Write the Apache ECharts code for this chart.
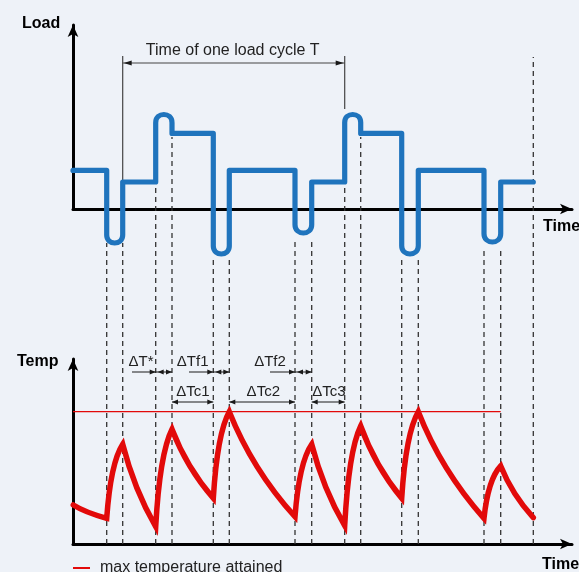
<!DOCTYPE html>
<html><head><meta charset="utf-8">
<script src="https://cdn.jsdelivr.net/npm/echarts@6/dist/echarts.min.js"></script>
<style>html,body{margin:0;padding:0;background:#eef2f8}#c{width:579px;height:572px}</style>
</head><body><div id="c"></div>
<script>
// ---- data (time in arbitrary units, load / temperature in arbitrary units) ----
const edgeTimes = [0, 3.37, 4.97, 8.27, 9.9, 14.03, 15.63, 22.2, 23.87, 27.17, 28.77, 32.87, 34.53, 41.1, 42.77, 46.03];
const flatLevels = [3.86, 2.7, 7.56, 3.86, 2.7, 7.56, 3.86, 2.7];
const transitionExtremes = [-3.4, 9.45, -4.5, -2.4, 9.45, -4.5, -3.3];
const tempTimes = [0.03, 3.37, 4.97, 8.27, 9.9, 14.03, 15.63, 22.2, 23.87, 27.17, 28.77, 32.87, 34.53, 41.1, 42.77, 46.03];
const tempValues = [3.9, 2.57, 9.97, 1.73, 11.47, 4.57, 13.23, 2.73, 9.97, 1.83, 11.8, 4.57, 13.23, 2.57, 7.8, 2.63];
const maxTemp = 13.23;
const maxTempEnd = 42.77;
const guideTimes = [3.37, 4.97, 8.27, 9.9, 14.03, 15.63, 22.2, 23.87, 27.17, 28.77, 32.87, 34.53, 41.1, 42.77, 46.03];
const guideTops = [-3.4, -3.4, 2.4, 7.2, -5.1, -5.1, -3.3, -3.3, 2.4, 7.2, -5.1, -5.1, -3.9, -3.9, 15.2];
const cycleStart = 4.97, cycleEnd = 27.17;
const cycleLineTop = 15.3, cycleArrowLevel = 14.6, cycleLabelLevel = 15.8;
const cycleLineBottoms = [2.7, 10.0];
const cycleLabel = 'Time of one load cycle T';
const dimLabels = ['ΔT*', 'ΔTf1', 'ΔTf2', 'ΔTc1', 'ΔTc2', 'ΔTc3'];
const dimLabelT = [6.8, 11.97, 19.7, 12.0, 19.03, 25.6];
const dimLabelV = [18.2, 18.2, 18.2, 15.2, 15.2, 15.2];
const dimStart = [5.9, 11.6, 19.7, 9.9, 15.63, 23.87];
const dimEnd = [9.9, 15.63, 23.87, 14.03, 22.2, 27.17];
const dimLevel = [17.2, 17.2, 17.2, 14.2, 14.2, 14.2];
// arrow heads: [time of tip, direction (+1 right, -1 left)]
const dimHeads = [
  [[8.27, 1], [8.47, -1], [9.9, 1]],
  [[14.03, 1], [14.23, -1], [15.63, 1]],
  [[22.2, 1], [22.4, -1], [23.87, 1]],
  [[9.9, -1], [14.03, 1]],
  [[15.63, -1], [22.2, 1]],
  [[23.87, -1], [27.17, 1]]
];

const FONT = '"Liberation Sans", Arial, Helvetica, sans-serif';
const BLUE = '#1f74bd', RED = '#e20a0a', INK = '#1a1a1a';
const chart = echarts.init(document.getElementById('c'));

function arrowHead(x, y, dir, len, half) {
  return { type: 'polygon', shape: { points: [[x, y], [x - dir * len, y - half], [x - dir * len, y + half]] }, style: { fill: INK } };
}

function axisSet(i, ymax) {
  return {
    x: { gridIndex: i, type: 'value', min: 0, max: 49.9,
      axisLine: { show: true, onZero: false, symbol: ['none', 'arrow'], symbolSize: [8, 12], lineStyle: { color: '#000', width: 3 } },
      axisTick: { show: false }, axisLabel: { show: false }, splitLine: { show: false } },
    y: { gridIndex: i, type: 'value', min: 0, max: ymax,
      axisLine: { show: true, onZero: false, symbol: ['none', 'arrow'], symbolSize: [8, 12], lineStyle: { color: '#000', width: 3 } },
      axisTick: { show: false }, axisLabel: { show: false }, splitLine: { show: false } }
  };
}
const a0 = axisSet(0, 18.4), a1 = axisSet(1, 18.5);

const option = {
  backgroundColor: '#eef2f8',
  animation: false,
  grid: [
    { left: 73, top: 25, width: 499, height: 184 },
    { left: 73, top: 359, width: 499, height: 185 }
  ],
  xAxis: [a0.x, a1.x],
  yAxis: [a0.y, a1.y],
  legend: {
    left: 68, top: 555, icon: 'rect', itemWidth: 17, itemHeight: 2,
    textStyle: { fontFamily: FONT, fontSize: 16, color: '#222', padding: [0, 0, 0, 5] },
    data: ['max temperature attained']
  },
  graphic: [
    { type: 'text', left: 22, top: 16, style: { text: 'Load', font: 'bold 16px ' + FONT, fill: '#000' } },
    { type: 'text', left: 17, top: 354, style: { text: 'Temp', font: 'bold 16px ' + FONT, fill: '#000' } },
    { type: 'text', left: 543, top: 219, style: { text: 'Time', font: 'bold 16px ' + FONT, fill: '#000' } },
    { type: 'text', left: 542, top: 557, style: { text: 'Time', font: 'bold 16px ' + FONT, fill: '#000' } }
  ],
  series: [
    { // dashed guide lines (drawn in temp grid, top from load grid)
      type: 'custom', xAxisIndex: 1, yAxisIndex: 1, z: 1, silent: true,
      data: guideTimes.map((t, i) => [t, guideTops[i]]),
      renderItem: function (params, api) {
        const t = api.value(0), top = api.value(1);
        const b = api.coord([t, 0]);
        const tp = chart.convertToPixel({ xAxisIndex: 0, yAxisIndex: 0 }, [t, top]);
        if (!tp) return null;
        return { type: 'line', shape: { x1: b[0], y1: b[1], x2: b[0], y2: tp[1] },
          style: { stroke: '#333', lineWidth: 1.3, lineDash: [5, 4] } };
      }
    },
    { // load-cycle annotation
      type: 'custom', xAxisIndex: 0, yAxisIndex: 0, z: 2, silent: true,
      data: [[cycleStart, cycleEnd]],
      renderItem: function (params, api) {
        const s = api.coord([cycleStart, cycleLineTop]);
        const e = api.coord([cycleEnd, cycleLineTop]);
        const sb = api.coord([cycleStart, cycleLineBottoms[0]]);
        const eb = api.coord([cycleEnd, cycleLineBottoms[1]]);
        const ay = api.coord([0, cycleArrowLevel])[1];
        const ly = api.coord([0, cycleLabelLevel])[1];
        return { type: 'group', children: [
          { type: 'line', shape: { x1: s[0], y1: s[1], x2: sb[0], y2: sb[1] }, style: { stroke: '#444', lineWidth: 1.2 } },
          { type: 'line', shape: { x1: e[0], y1: e[1], x2: eb[0], y2: eb[1] }, style: { stroke: '#444', lineWidth: 1.2 } },
          { type: 'line', shape: { x1: s[0], y1: ay, x2: e[0], y2: ay }, style: { stroke: '#444', lineWidth: 1 } },
          arrowHead(s[0] + 1, ay, -1, 8, 2.5),
          arrowHead(e[0] - 1, ay, 1, 8, 2.5),
          { type: 'text', x: (s[0] + e[0]) / 2 - 1, y: ly, style: { text: cycleLabel, font: '16px ' + FONT, fill: '#222', align: 'center', verticalAlign: 'middle' } }
        ] };
      }
    },
    { // load curve
      type: 'custom', xAxisIndex: 0, yAxisIndex: 0, z: 5, silent: true,
      data: [[0, 0]],
      renderItem: function (params, api) {
        const P = (t, v) => api.coord([t, v]);
        let p = P(edgeTimes[0], flatLevels[0]);
        let d = 'M' + p[0] + ' ' + p[1];
        for (let i = 0; i < flatLevels.length; i++) {
          const b = P(edgeTimes[2 * i + 1], flatLevels[i]);
          d += ' L' + b[0] + ' ' + b[1];
          if (i < transitionExtremes.length) {
            const x1 = b[0];
            const x2 = P(edgeTimes[2 * i + 2], 0)[0];
            const r = (x2 - x1) / 2;
            const ye = P(0, transitionExtremes[i])[1];
            const dir = ye > b[1] ? 1 : -1;
            const yc = ye - dir * r;
            const k = yc + dir * r * 4 / 3;
            d += ' L' + x1 + ' ' + yc + ' C' + x1 + ' ' + k + ' ' + x2 + ' ' + k + ' ' + x2 + ' ' + yc;
            const n = P(edgeTimes[2 * i + 2], flatLevels[i + 1]);
            d += ' L' + n[0] + ' ' + n[1];
          }
        }
        return { type: 'path', shape: { pathData: d }, style: { fill: null, stroke: BLUE, lineWidth: 5.2, lineJoin: 'round', lineCap: 'round' } };
      }
    },
    { // max temperature line
      name: 'max temperature attained', type: 'line', xAxisIndex: 1, yAxisIndex: 1, z: 3,
      data: [[0, maxTemp], [maxTempEnd, maxTemp]], showSymbol: false, symbol: 'none',
      lineStyle: { color: RED, width: 1.3 }, itemStyle: { color: RED }, silent: true
    },
    { // temperature curve
      type: 'custom', xAxisIndex: 1, yAxisIndex: 1, z: 6, silent: true,
      data: [[0, 0]],
      renderItem: function (params, api) {
        let p0 = api.coord([tempTimes[0], tempValues[0]]);
        let d = 'M' + p0[0] + ' ' + p0[1];
        for (let i = 1; i < tempTimes.length; i++) {
          const p1 = api.coord([tempTimes[i], tempValues[i]]);
          const rising = tempValues[i] > tempValues[i - 1];
          const a = rising ? 0.25 : 0.35, b = rising ? 0.75 : 0.55;
          const cx = p0[0] + a * (p1[0] - p0[0]), cy = p0[1] + b * (p1[1] - p0[1]);
          d += ' Q' + cx + ' ' + cy + ' ' + p1[0] + ' ' + p1[1];
          p0 = p1;
        }
        return { type: 'path', shape: { pathData: d }, style: { fill: null, stroke: RED, lineWidth: 5.5, lineJoin: 'miter', miterLimit: 4, lineCap: 'round' } };
      }
    },
    { // dimension annotations
      type: 'custom', xAxisIndex: 1, yAxisIndex: 1, z: 4, silent: true,
      data: dimLabels.map((l, i) => [dimStart[i], dimEnd[i]]),
      renderItem: function (params, api) {
        const i = params.dataIndex;
        const s = api.coord([dimStart[i], dimLevel[i]]);
        const e = api.coord([dimEnd[i], dimLevel[i]]);
        const lp = api.coord([dimLabelT[i], dimLabelV[i]]);
        const ch = [
          { type: 'line', shape: { x1: s[0], y1: s[1], x2: e[0], y2: e[1] }, style: { stroke: INK, lineWidth: 1 } },
          { type: 'text', x: lp[0], y: lp[1], style: { text: dimLabels[i], font: '15px ' + FONT, fill: '#222', align: 'center', verticalAlign: 'middle' } }
        ];
        dimHeads[i].forEach(h => {
          const p = api.coord([h[0], dimLevel[i]]);
          ch.push(arrowHead(p[0], p[1], h[1], 6, 2.5));
        });
        return { type: 'group', children: ch };
      }
    }
  ]
};
chart.setOption(option);
</script>
</body></html>
